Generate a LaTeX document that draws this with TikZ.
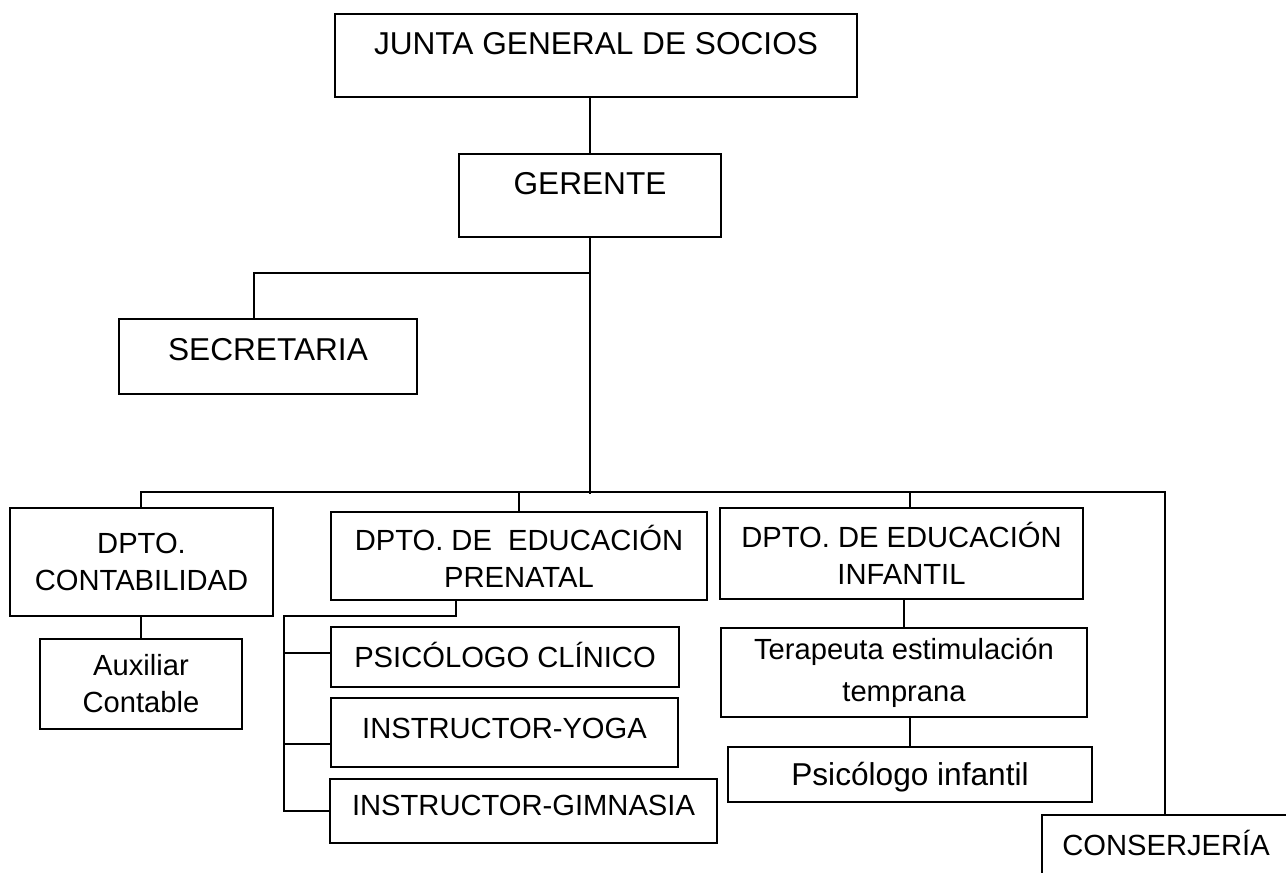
\documentclass[tikz,border=0pt]{standalone}
\usepackage{fontspec}
\setmainfont{Liberation Sans}
\usetikzlibrary{calc,positioning}

\begin{document}
\begin{tikzpicture}[x=0.02cm,y=-0.02cm,line width=1pt,
    every node/.style={font=\fontsize{16.6}{21}\selectfont},
    box/.style={draw,line width=1pt,align=center,inner sep=2pt},
    big/.style={font=\fontsize{18}{22}\selectfont},
    caps/.style={text height=11.9pt,text depth=#1},
    bigcaps/.style={text height=12.9pt,text depth=#1}]
  \useasboundingbox (0,0) rectangle (1286,873);
  \clip (0,0) rectangle (1286,873);
  % direction
  \node[box,big,bigcaps=14.2pt,minimum width=10.44cm,minimum height=1.66cm] (junta) at (596,55.5) {JUNTA GENERAL DE SOCIOS};
  \node[box,big,bigcaps=14.2pt,minimum width=5.24cm,minimum height=1.66cm] (gerente) at (590,195.5) {GERENTE};
  \node[box,big,bigcaps=8.5pt,minimum width=5.96cm,minimum height=1.5cm] (secretaria) at (268,356.5) {SECRETARIA};
  % departamentos
  \node[box,minimum width=5.26cm,minimum height=2.16cm] (contab) at (141.5,562) {DPTO.\\CONTABILIDAD};
  \node[box,minimum width=7.52cm,minimum height=1.76cm] (prenatal) at (519,556) {DPTO. DE\ \ EDUCACIÓN\\PRENATAL};
  \node[box,minimum width=7.26cm,minimum height=1.82cm] (infantil) at (901.5,553.5) {DPTO. DE EDUCACIÓN\\INFANTIL};
  \node[box,caps=0pt,minimum width=4.96cm,minimum height=1.2cm] (conserjeria) at (1166,845) {CONSERJERÍA};
  % personal
  \node[box,minimum width=4.04cm,minimum height=1.8cm] (auxiliar) at (141,684) {Auxiliar\\Contable};
  \node[box,caps=0pt,minimum width=6.96cm,minimum height=1.2cm] (clinico) at (505,657) {PSICÓLOGO CLÍNICO};
  \node[box,caps=5.1pt,minimum width=6.94cm,minimum height=1.38cm] (yoga) at (504.5,732.5) {INSTRUCTOR-YOGA};
  \node[box,caps=6.8pt,minimum width=7.74cm,minimum height=1.28cm] (gimnasia) at (523.5,811) {INSTRUCTOR-GIMNASIA};
  \node[box,font=\fontsize{16.6}{24}\selectfont,minimum width=7.32cm,minimum height=1.78cm] (terapeuta) at (904,672.5) {Terapeuta estimulación\\temprana};
  \node[box,big,bigcaps=0pt,minimum width=7.28cm,minimum height=1.1cm] (psicinf) at (910,774.5) {Psicólogo infantil};
  % puntos de las lineas
  \coordinate (sec) at (254,273);
  \coordinate (busL) at (141,492);
  \coordinate (busR) at (1165,492);
  \coordinate (dinf) at (910,492);
  \coordinate (pb) at (456,616);
  \coordinate (pl) at (284,616);
  % lineas
  \draw (junta.south -| gerente.north) -- (gerente.north);
  \draw (gerente.south) -- (gerente.south |- busR) -- ++(0,2);
  \draw (gerente.south |- sec) -- (sec) -- (sec |- secretaria.north);
  \draw (busL |- contab.north) -- (busL) -- (busR) -- (busR |- conserjeria.north);
  \draw (prenatal.north |- busL) -- (prenatal.north);
  \draw (dinf) -- (dinf |- infantil.north);
  \draw (auxiliar.north |- contab.south) -- (auxiliar.north);
  \draw (pb |- prenatal.south) -- (pb) -- (pl) -- (pl |- gimnasia.west) -- (gimnasia.west);
  \draw ($(pl |- clinico.west)+(0,-4)$) -- ($(clinico.west)+(0,-4)$);
  \draw ($(pl |- yoga.west)+(0,11.5)$) -- ($(yoga.west)+(0,11.5)$);
  \draw (terapeuta.north |- infantil.south) -- (terapeuta.north);
  \draw (psicinf.north |- terapeuta.south) -- (psicinf.north);
\end{tikzpicture}
\end{document}
